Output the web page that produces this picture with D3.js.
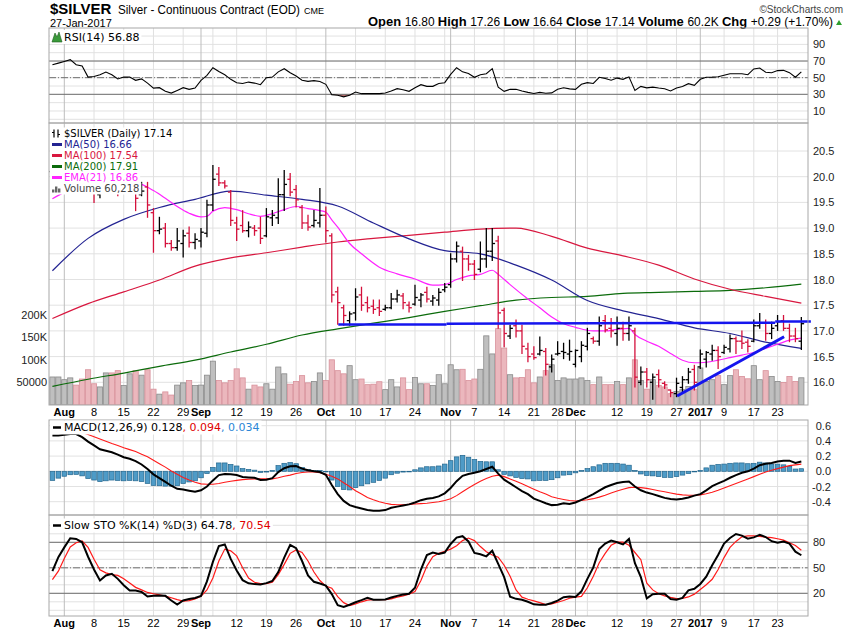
<!DOCTYPE html>
<html><head><meta charset="utf-8">
<script src="https://cdn.jsdelivr.net/npm/d3@7"></script>
<style>body{margin:0;background:#fff}svg{display:block}</style>
</head><body>
<svg id="chart" width="850" height="633"></svg>
<script>
// ---------------- DATA (one entry per trading day, 28-Jul-2016 .. 27-Jan-2017) ----------------
const barOpen = [20.10,20.25,20.40,20.55,20.60,20.35,20.20,19.85,19.65,19.90,
20.00,19.85,19.70,19.75,19.82,19.65,19.80,19.30,18.95,19.00,
18.70,18.62,18.70,18.90,18.72,18.75,18.90,19.45,20.05,19.88,
19.70,19.10,19.05,18.95,19.00,19.00,18.85,19.20,19.20,19.65,
19.95,19.75,19.40,19.10,19.05,19.10,19.25,18.85,17.76,17.45,
17.20,17.35,17.70,17.55,17.48,17.45,17.42,17.45,17.62,17.68,
17.50,17.52,17.60,17.75,17.58,17.60,17.80,17.90,18.40,18.55,
18.40,18.30,18.20,18.40,18.55,18.75,17.40,16.90,17.10,17.00,
16.65,16.55,16.55,16.60,16.30,16.55,16.60,16.55,16.35,16.50,
16.70,16.85,16.80,17.20,17.05,16.95,17.05,16.95,17.00,16.00,
16.20,16.00,16.15,15.98,15.85,15.78,15.90,16.05,16.25,16.30,
16.45,16.55,16.62,16.58,16.65,16.85,16.80,16.78,16.80,17.10,
17.15,16.95,17.10,17.20,17.05,16.90,16.80];
const barHigh = [20.30,20.45,20.70,20.80,20.70,20.45,20.30,19.95,19.95,20.10,
20.08,19.95,19.95,20.10,19.89,19.89,19.89,19.38,19.21,19.09,
18.76,18.99,18.96,19.02,18.89,18.99,19.54,20.22,20.18,19.92,
19.73,19.21,19.34,19.12,19.05,19.21,19.38,19.34,19.96,20.12,
20.06,19.83,19.44,19.25,19.34,19.77,19.41,18.89,17.85,17.50,
17.37,17.82,17.85,17.66,17.60,17.60,17.50,17.73,17.79,17.73,
17.56,17.89,17.73,17.85,17.69,17.82,17.92,18.50,18.73,18.63,
18.47,18.37,18.73,18.99,18.99,18.84,17.44,17.11,17.21,17.11,
16.76,16.69,16.88,16.66,16.53,16.79,16.76,16.82,16.63,16.79,
17.05,16.88,17.27,17.30,17.24,17.27,17.17,17.27,17.05,16.30,
16.27,16.16,16.24,16.01,15.85,16.08,16.11,16.27,16.33,16.63,
16.60,16.72,16.69,16.72,16.92,16.88,17.00,16.83,17.21,17.34,
17.21,17.17,17.30,17.30,17.13,17.05,17.26];
const barLow = [19.95,20.15,20.30,20.45,20.25,20.05,19.75,19.50,19.59,19.75,
19.75,19.63,19.70,19.72,19.34,19.63,19.21,18.53,18.89,18.63,
18.57,18.57,18.44,18.63,18.60,18.63,18.83,19.34,19.83,19.78,
19.05,18.76,18.92,18.83,18.86,18.70,18.83,19.05,19.09,19.34,
19.63,19.41,18.99,18.96,19.02,19.02,18.73,17.56,17.13,17.11,
17.11,17.21,17.40,17.37,17.34,17.30,17.40,17.43,17.56,17.43,
17.37,17.50,17.47,17.56,17.50,17.50,17.76,17.85,18.34,17.98,
18.18,18.00,18.15,18.24,18.37,17.05,16.69,16.85,16.88,16.56,
16.40,16.45,16.53,16.14,16.20,16.53,16.46,16.43,16.30,16.40,
16.63,16.76,16.72,16.98,16.88,16.72,16.82,16.82,15.91,15.95,
15.91,15.67,15.91,15.88,15.72,15.72,15.82,15.98,15.85,16.27,
16.30,16.43,16.27,16.56,16.59,16.56,16.66,16.59,16.79,17.05,
16.82,16.85,17.01,17.01,16.79,16.79,16.64];
const barClose = [20.25,20.40,20.55,20.65,20.35,20.20,19.80,19.72,19.88,20.05,
19.85,19.68,19.80,19.82,19.58,19.72,19.45,18.95,18.98,18.70,
18.62,18.75,18.85,18.72,18.78,18.92,19.45,19.95,19.88,19.82,
19.15,18.98,18.95,19.02,18.95,18.80,19.22,19.25,19.65,19.85,
19.70,19.55,19.10,19.02,19.15,19.25,18.95,17.70,17.55,17.30,
17.33,17.66,17.50,17.45,17.42,17.38,17.45,17.62,17.70,17.55,
17.45,17.65,17.70,17.62,17.64,17.75,17.85,18.40,18.65,18.40,
18.30,18.10,18.40,18.55,18.70,17.35,16.95,17.05,17.00,16.70,
16.50,16.48,16.62,16.35,16.45,16.56,16.58,16.60,16.62,16.72,
16.95,16.80,17.10,17.02,17.00,17.05,16.95,17.10,16.10,16.20,
16.05,16.10,16.05,15.95,15.80,15.98,16.05,16.20,16.00,16.55,
16.58,16.62,16.50,16.68,16.85,16.80,16.76,16.70,17.10,17.15,
16.95,17.05,17.18,17.05,16.90,16.85,17.14];
// volume in thousands
const volumeK = [62,62,56,60,44,57.5,78,47,40,71,
71,76,43,69,76,66,78,35,24,29,
22,44,49,54,43,44,66,97,54,49,
54,80,60,35,44,40,47,35,84,69,
46,52,65,49,52,71,54,100,76,69,
87,56,57.5,45,46,51.5,34,56,40,60,
34,61,47,47,43,67,47,89,78,79,
54,57.5,79,153,113,169,126,67,60,61,
78,49,62,76,89,54,60,57.5,57.5,60,
54,45,62,45,45,52,45,60,100,54,
35,56,43,40,25,30,34,41,35,82,
52,56,65,45,65,78,63,58,87,56,
76,63,52,50,63,52,60.218];
const rsi14 = [65.5,67.5,69.5,71.6,65.6,64,50.7,51.5,53.5,56.7,
53.6,48.5,50.7,50.7,46.8,48.5,43.5,37.5,38,33.6,
31.5,34.7,38,36,37.5,46.8,52.8,62,57.5,53.5,
48,44,43,44.7,43.5,41.6,50,50.7,57,60.8,
56,52,47,45.6,46.5,45.5,42,29.6,28.8,27,
28.8,32.7,30.8,30.8,30.8,30.8,31.5,34,36.8,35.5,
33.6,38,41.6,39.6,39.6,43,44,54,62,57,
55,50.5,53.6,54.8,60.8,38.7,33.6,36,36,34,
32.3,31,32.3,31.3,31.7,36,37.8,36.5,36,42,
44,43,50.5,49,47,49.5,48,51,34.7,39.5,
37.8,38.7,37.6,36.8,34,37.5,39.5,42.8,40.8,48,
50.5,50.7,51.2,53,54.8,54.8,54.8,53.6,60.5,61.6,
56.5,56,58.5,58.8,56,50.5,56.88];
const macdLine = [0.47,0.47,0.48,0.49,0.49,0.45,0.39,0.34,0.29,0.27,
0.25,0.22,0.185,0.165,0.135,0.09,0.03,-0.04,-0.09,-0.14,
-0.19,-0.23,-0.24,-0.255,-0.27,-0.25,-0.20,-0.12,-0.05,-0.035,
-0.04,-0.05,-0.075,-0.08,-0.085,-0.115,-0.11,-0.09,-0.01,0.04,
0.065,0.07,0.035,0.015,0.00,-0.01,-0.045,-0.18,-0.30,-0.39,
-0.445,-0.47,-0.49,-0.51,-0.52,-0.52,-0.51,-0.48,-0.465,-0.45,
-0.435,-0.41,-0.38,-0.36,-0.35,-0.33,-0.29,-0.22,-0.13,-0.06,
-0.035,-0.02,0.00,0.03,0.06,-0.03,-0.11,-0.16,-0.21,-0.26,
-0.30,-0.36,-0.39,-0.42,-0.445,-0.44,-0.42,-0.43,-0.41,-0.375,
-0.34,-0.30,-0.255,-0.21,-0.18,-0.155,-0.14,-0.135,-0.20,-0.25,
-0.28,-0.30,-0.325,-0.35,-0.365,-0.37,-0.36,-0.345,-0.32,-0.30,
-0.25,-0.195,-0.16,-0.125,-0.085,-0.05,-0.02,0.00,0.035,0.08,
0.10,0.11,0.13,0.14,0.14,0.11,0.128];
const macdSignal = [0.59,0.56,0.545,0.535,0.53,0.51,0.485,0.455,0.425,0.395,
0.365,0.34,0.31,0.285,0.26,0.225,0.19,0.145,0.10,0.055,
0.005,-0.04,-0.08,-0.115,-0.145,-0.165,-0.17,-0.17,-0.16,-0.145,
-0.13,-0.12,-0.11,-0.105,-0.10,-0.10,-0.10,-0.10,-0.085,-0.065,
-0.05,-0.03,-0.015,-0.01,-0.01,-0.02,-0.04,-0.065,-0.10,-0.15,
-0.20,-0.255,-0.30,-0.345,-0.375,-0.40,-0.42,-0.435,-0.44,-0.44,
-0.435,-0.43,-0.425,-0.42,-0.41,-0.40,-0.385,-0.36,-0.32,-0.27,
-0.22,-0.175,-0.13,-0.095,-0.065,-0.05,-0.07,-0.10,-0.13,-0.165,
-0.20,-0.235,-0.27,-0.30,-0.335,-0.355,-0.37,-0.385,-0.39,-0.385,
-0.375,-0.36,-0.34,-0.315,-0.285,-0.26,-0.235,-0.215,-0.21,-0.215,
-0.225,-0.24,-0.255,-0.27,-0.285,-0.30,-0.31,-0.315,-0.315,-0.31,
-0.295,-0.275,-0.25,-0.22,-0.19,-0.16,-0.13,-0.10,-0.07,-0.04,
-0.01,0.015,0.035,0.055,0.075,0.085,0.094];
const macdHist = [-0.12,-0.09,-0.065,-0.045,-0.04,-0.06,-0.095,-0.115,-0.135,-0.125,
-0.115,-0.12,-0.125,-0.12,-0.125,-0.135,-0.16,-0.185,-0.19,-0.195,
-0.195,-0.19,-0.16,-0.14,-0.125,-0.085,-0.03,0.05,0.11,0.11,
0.09,0.07,0.035,0.025,0.015,-0.015,-0.01,0.01,0.075,0.105,
0.115,0.10,0.05,0.025,0.01,0.01,-0.005,-0.115,-0.20,-0.24,
-0.245,-0.215,-0.19,-0.165,-0.145,-0.12,-0.09,-0.045,-0.025,-0.01,
0.0,0.02,0.045,0.06,0.06,0.07,0.095,0.14,0.19,0.21,
0.185,0.155,0.13,0.125,0.125,0.02,-0.04,-0.06,-0.08,-0.095,
-0.10,-0.125,-0.12,-0.12,-0.11,-0.085,-0.05,-0.045,-0.02,0.01,
0.035,0.06,0.085,0.105,0.105,0.105,0.095,0.08,0.01,-0.035,
-0.055,-0.06,-0.07,-0.08,-0.08,-0.07,-0.05,-0.03,-0.005,0.01,
0.045,0.08,0.09,0.095,0.105,0.11,0.11,0.10,0.105,0.12,
0.11,0.095,0.095,0.085,0.065,0.03,0.034];
const stoK = [46,62.5,74,84.8,84,80,63,48,35,41,
43,37,29.5,23.3,23.3,21.5,16.2,17,17.3,17,
11.5,6.8,11.5,13.3,14.5,17,34,57,75.5,77.5,
60.5,46.8,35.5,31.7,30.8,30.4,32,34.5,45,62,
77,73,58,41,33.5,31.5,29,19,6,4,
6.5,9.5,12,14.7,12.4,12.4,12.8,15.1,17,18.6,
19.4,26.5,48,65,68,66.4,68,78,85.5,87.2,
81,67.5,66,63.5,70,54.7,39,16,13.5,12.4,
10,7,6.5,6.5,8.6,11.4,15.4,16.2,15.7,22.3,
37,50.5,72,78.5,82,80,77.5,84,55.4,39,
14,19,19.4,19.4,13.3,12.4,14.5,23.5,25.3,31,
39.5,53,65,78.5,85,89.8,87.9,84.3,85.8,88.8,
86.2,81.3,79.6,80.9,78.4,69,64.78];
const stoD = [36,46,61,74.5,79.5,81.5,74,60,47.6,44,
42,41,37,32,27,24,21,19.5,18.2,16.7,
14.8,12.5,10.8,11.4,13.5,16.5,24,38,58,72,
70,64,50,38,33,31.5,31.5,33,42,54,
67,71,68,58,45,35,28.5,26,16,9,
5.5,7.5,10,12,12.4,12.4,12.4,13.5,15.5,17,
19,22,35,52,63,67,69.5,72,76,82,
85,82,75,69,65,62.5,53,40,24,15.5,
13,11,9,6.8,7.5,9.5,11.5,14.2,15.4,16.3,
26.5,40,56,67,76.5,80.1,80.1,76.5,68,59.5,
32,24,19.5,17,15.3,13.8,14,15.7,19,24.5,
30,36.5,48,62,74,81,86.4,87.5,87.6,87,
86,85.5,84.2,82.5,79.5,76.2,70.54];
// moving averages read at sample bars
const maBars = [0,6,12,18,24,30,36,42,48,54,60,66,72,78,84,90,96,102,108,114,120,126];
const ma50  = [18.17,18.80,19.17,19.40,19.56,19.72,19.64,19.56,19.43,19.10,18.79,18.56,18.50,18.28,17.99,17.59,17.39,17.24,17.06,16.95,16.78,16.66];
const ma100 = [17.24,17.53,17.76,17.99,18.26,18.42,18.52,18.63,18.73,18.80,18.86,18.92,18.98,19.00,18.84,18.61,18.46,18.28,18.01,17.81,17.67,17.54];
const ma200 = [15.92,16.06,16.18,16.31,16.43,16.59,16.74,16.92,17.04,17.15,17.26,17.38,17.49,17.60,17.65,17.67,17.73,17.75,17.77,17.79,17.84,17.91];
const emaBars = [0,2,5,8,11,13,15,17,19,21,23,25,26,27,29,31,33,35,37,39,41,43,45,46,47,48,50,52,55,58,61,64,66,68,70,72,74,75,77,80,82,84,86,88,91,93,95,97,98,100,102,104,106,108,110,112,114,116,118,120,122,124,126];
const ema21 = [19.57,19.70,19.83,19.88,19.90,19.89,19.85,19.73,19.58,19.42,19.29,19.22,19.23,19.33,19.40,19.36,19.28,19.23,19.28,19.36,19.42,19.38,19.34,19.31,19.16,19.02,18.70,18.50,18.24,18.11,18.01,17.89,17.90,18.00,18.07,18.10,18.18,18.10,17.90,17.62,17.45,17.27,17.14,17.07,17.00,17.00,17.03,17.05,16.93,16.80,16.70,16.56,16.43,16.38,16.39,16.43,16.48,16.53,16.58,16.66,16.74,16.82,16.86];
// drawn annotation lines [bar0, price0, bar1, price1, width]
const annoLines = [[48.1,17.125,66.3,17.125,2.5],[66.3,17.14,121.6,17.16,2.5],[121.6,17.185,127.6,17.185,2.5],[105.1,15.733,123.1,16.887,3]];
// time axis
const tickBars   = [2,7,12,17,22,25,27,31,36,41,46,51,56,61,66,67,71,76,81,85,88,90,95,100,105,109,113,118,122];
const tickLabels = ["Aug","8","15","22","29","Sep","","12","19","26","Oct","10","17","24","","Nov","7","14","21","28","Dec","","12","19","27","2017","9","17","23"];
const monthLabels = ["Aug","Sep","Oct","Nov","Dec","2017"];
const priceTicks = [16.0,16.5,17.0,17.5,18.0,18.5,19.0,19.5,20.0,20.5];
const volTicks = [50,100,150,200];
const volTickLabels = ["50000","100K","150K","200K"];
const rsiTicks = [10,30,50,70,90];
const macdTicks = [-0.4,-0.2,0.0,0.2,0.4,0.6];
const stoTicks = [20,50,80];

// ---------------- LAYOUT ----------------
const L = 49, R = 808;
const svg = d3.select('#chart');
const x = d3.scaleLinear().domain([-0.574, 127.12]).range([L, R]);
const P = {rsi:[28,123], price:[123,405], macd:[420,515], sto:[515,616]};
const yR = d3.scaleLinear().domain([0,100]).range([119.3,36.05]);
const yP = d3.scaleLinear().domain([16,20.5]).range([382.3,151]);
const yV = d3.scaleLinear().domain([0,200]).range([405,314.6]);
const yM = d3.scaleLinear().domain([-0.4,0.6]).range([501.7,425.7]);
const yS = d3.scaleLinear().domain([20,80]).range([593.3,542.3]);
const SANS = "'Liberation Sans', Arial, sans-serif";
const NARROW = "'Liberation Sans Narrow', 'Arial Narrow', 'Liberation Sans', Arial, sans-serif";
const LEG = "'DejaVu Sans', Verdana, sans-serif";
const RED = "#d4113c";

const defs = svg.append('defs');
Object.entries(P).forEach(([k,[t,b]]) => {
  defs.append('clipPath').attr('id','clip-'+k).append('rect')
    .attr('x',L).attr('y',t).attr('width',R-L).attr('height',b-t);
});

function grid(key, hVals, yScale) {
  const [t,b] = P[key];
  const g = svg.append('g');
  g.selectAll('line.h').data(hVals).join('line')
    .attr('x1',L).attr('x2',R).attr('y1',d=>yScale(d)).attr('y2',d=>yScale(d))
    .attr('stroke','#e2e2e2').attr('stroke-width',1);
  g.selectAll('line.v').data(tickBars).join('line')
    .attr('x1',d=>x(d)).attr('x2',d=>x(d)).attr('y1',t).attr('y2',b)
    .attr('stroke',(d,i)=> monthLabels.includes(tickLabels[i]) ? '#bdbdbd' : '#e0e0e0')
    .attr('stroke-width',1);
  return g;
}
function frame(key) {
  const [t,b] = P[key];
  svg.append('rect').attr('x',L).attr('y',t).attr('width',R-L).attr('height',b-t)
    .attr('fill','none').attr('stroke','#a8a8a8').attr('stroke-width',1);
}
function refLine(yv, dash) {
  svg.append('line').attr('x1',L).attr('x2',R).attr('y1',yv).attr('y2',yv)
    .attr('stroke','#707070').attr('stroke-width',1)
    .attr('stroke-dasharray', dash ? '7,2,1,2' : null);
}
function rightLabels(vals, yScale, fmt, anchor, xx) {
  svg.append('g').selectAll('text').data(vals).join('text')
    .attr('x',xx).attr('y',d=>yScale(d)+4).attr('text-anchor',anchor)
    .attr('font-family',SANS).attr('font-size',11).attr('fill','#222')
    .text(fmt);
}
function legendLine(xText, yBase, parts, size, iconFn) {
  const g = svg.append('g');
  const t = g.append('text').attr('x',xText).attr('y',yBase)
    .attr('font-family',LEG).attr('font-size',size);
  parts.forEach(p => t.append('tspan').attr('fill',p[1]).text(p[0]));
  const bb = t.node().getBBox();
  g.insert('rect', () => t.node()).attr('x',L+1).attr('y',bb.y-0.5)
    .attr('width', bb.x + bb.width - L + 1).attr('height', bb.height+1).attr('fill','#fff');
  if (iconFn) iconFn(g, bb.y + bb.height/2);
}
// text squeezed to a given width (reference uses a condensed face)
function fitText(xx, yy, str, size, weight, width, anchor, fill) {
  const t = svg.append('text').attr('x',xx).attr('y',yy).attr('font-family',NARROW)
    .attr('font-size',size).attr('font-weight',weight).attr('fill',fill||'#000')
    .attr('text-anchor',anchor||'start').text(str);
  if (width && t.node().getComputedTextLength() > width)
    t.attr('textLength',width).attr('lengthAdjust','spacingAndGlyphs');
  return t;
}

// ---------------- HEADER ----------------
fitText(50, 13.5, '$SILVER', 15, 'bold', 64);
fitText(118, 14, 'Silver - Continuous Contract (EOD)', 12, 'normal', 182);
fitText(304, 14, 'CME', 9, 'normal', 22);
fitText(50, 27, '27-Jan-2017', 11, 'normal', 63);
fitText(843, 13, '\u00A9StockCharts.com', 10, 'normal', 0, 'end', '#444');
const hdr = svg.append('text').attr('x',833).attr('y',26).attr('text-anchor','end').attr('font-family',NARROW).attr('font-size',12).attr('fill','#000');
[['Open ',1],['16.80 ',0],['High ',1],['17.26 ',0],['Low ',1],['16.64 ',0],['Close ',1],['17.14 ',0],['Volume ',1],['60.2K ',0],['Chg ',1],['+0.29 (+1.70%)',0]]
  .forEach(p => hdr.append('tspan').attr('font-weight',p[1]?'bold':'normal').attr('font-size',p[1]?13:12).text(p[0]));
if (hdr.node().getComputedTextLength() > 465) hdr.attr('textLength',465).attr('lengthAdjust','spacingAndGlyphs');
svg.append('path').attr('d','M836,25 L842,25 L839,20 Z').attr('fill','#2e9e2e');

// ---------------- RSI PANEL ----------------
grid('rsi', d3.range(0,101,10), yR);
svg.append('path').datum(rsi14).attr('clip-path','url(#clip-rsi)')
  .attr('d', d3.area().x((d,i)=>x(i)).y0(yR(30)).y1(d=>yR(Math.min(d,30))))
  .attr('fill','#b46a6a');
refLine(yR(70)); refLine(yR(30)); refLine(yR(50), true);
svg.append('path').datum(rsi14).attr('clip-path','url(#clip-rsi)')
  .attr('d', d3.line().x((d,i)=>x(i)).y(d=>yR(d)))
  .attr('fill','none').attr('stroke','#000').attr('stroke-width',1.1);
frame('rsi');
rightLabels(rsiTicks, yR, d=>d, 'start', 813);
legendLine(64, 40.5, [['RSI(14) 56.88','#000']], 11, (g,cy) => {
  g.append('path').attr('d',`M52,${cy+5} L55,${cy-4} L57,${cy} L59,${cy-5} L62,${cy+5} Z`).attr('fill','#3a9a3a').attr('stroke','#1e5e1e').attr('stroke-width',0.6);
});

// ---------------- PRICE PANEL ----------------
grid('price', priceTicks, yP);
const pg = svg.append('g').attr('clip-path','url(#clip-price)');
const up = i => i === 0 ? true : barClose[i] >= barClose[i-1];
pg.selectAll('rect.vol').data(volumeK).join('rect')
  .attr('x',(d,i)=>x(i)-2.6).attr('width',5.2)
  .attr('y',d=>yV(d)).attr('height',d=>yV(0)-yV(d))
  .attr('fill',(d,i)=> up(i) ? '#bfbfbf' : '#ebb7bd')
  .attr('stroke',(d,i)=> up(i) ? '#8a8a8a' : '#d8909a').attr('stroke-width',0.8);
const maLine = (bars) => d3.line().x((d,k)=>x(bars[k])).y(d=>yP(d)).curve(d3.curveMonotoneX);
[[ma200,'#0b6b0b'],[ma100,'#d8173f'],[ma50,'#232392']].forEach(([arr,c]) => {
  pg.append('path').attr('d', maLine(maBars)(arr)).attr('fill','none').attr('stroke',c).attr('stroke-width',1.2);
});
pg.append('path').attr('d', maLine(emaBars)(ema21)).attr('fill','none').attr('stroke','#ff22ff').attr('stroke-width',1.2);
const bars = pg.selectAll('g.bar').data(barClose).join('g')
  .attr('stroke',(d,i)=> up(i) ? '#000' : RED).attr('stroke-width',1.3);
bars.append('line').attr('x1',(d,i)=>x(i)).attr('x2',(d,i)=>x(i))
  .attr('y1',(d,i)=>yP(barHigh[i])-0.5).attr('y2',(d,i)=>yP(barLow[i])+0.5);
bars.append('line').attr('x1',(d,i)=>x(i)-2.8).attr('x2',(d,i)=>x(i))
  .attr('y1',(d,i)=>yP(barOpen[i])).attr('y2',(d,i)=>yP(barOpen[i]));
bars.append('line').attr('x1',(d,i)=>x(i)).attr('x2',(d,i)=>x(i)+2.8)
  .attr('y1',(d,i)=>yP(barClose[i])).attr('y2',(d,i)=>yP(barClose[i]));
svg.append('g').selectAll('line').data(annoLines).join('line')
  .attr('x1',d=>x(d[0])).attr('y1',d=>yP(d[1])).attr('x2',d=>x(d[2])).attr('y2',d=>yP(d[3]))
  .attr('stroke','#1515ee').attr('stroke-width',d=>d[4]).attr('stroke-linecap','butt');
frame('price');
rightLabels(priceTicks, yP, d=>d.toFixed(1), 'start', 813);
svg.append('g').selectAll('text').data(volTicks).join('text')
  .attr('x',47).attr('y',d=>yV(d)+4).attr('text-anchor','end')
  .attr('font-family',SANS).attr('font-size',11).attr('fill','#222')
  .text((d,i)=>volTickLabels[i]);
// legend
const legRows = [
  [['$SILVER (Daily) 17.14','#000'], 'price'],
  [['MA(50) 16.66','#232392'], '#232392'],
  [['MA(100) 17.54','#d8173f'], '#d8173f'],
  [['MA(200) 17.91','#0b6b0b'], '#0b6b0b'],
  [['EMA(21) 16.86','#ff22ff'], '#ff22ff'],
  [['Volume 60,218','#444'], 'vol']
];
legRows.forEach((r,k) => {
  legendLine(64, 137 + k*11, [r[0]], 10, (g,cy) => {
    if (r[1] === 'price') {
      g.append('path').attr('d',`M54,${cy-4}V${cy+4}M52,${cy-1}H54M58,${cy-4}V${cy+4}M58,${cy+1}H60`).attr('stroke','#000').attr('stroke-width',1.2);
    } else if (r[1] === 'vol') {
      [[52,3],[55,6],[58,4]].forEach(([bx,h]) => g.append('rect').attr('x',bx).attr('y',cy+4-h).attr('width',2.4).attr('height',h).attr('fill','#666'));
    } else {
      g.append('line').attr('x1',52).attr('x2',62).attr('y1',cy).attr('y2',cy).attr('stroke',r[1]).attr('stroke-width',3);
    }
  });
});
// time axis labels
function timeLabels(yBase) {
  svg.append('g').selectAll('text').data(tickBars).join('text')
    .attr('x',d=>x(d)).attr('y',yBase).attr('text-anchor','middle')
    .attr('font-family',SANS).attr('font-size',11)
    .attr('font-weight',(d,i)=> monthLabels.includes(tickLabels[i]) ? 'bold' : 'normal')
    .attr('fill','#000').text((d,i)=>tickLabels[i]);
}
timeLabels(416);

// ---------------- MACD PANEL ----------------
grid('macd', macdTicks, yM);
const mg = svg.append('g').attr('clip-path','url(#clip-macd)');
mg.selectAll('rect').data(macdHist).join('rect')
  .attr('x',(d,i)=>x(i)-2.3).attr('width',4.6)
  .attr('y',d=>Math.min(yM(0),yM(d))).attr('height',d=>Math.max(0.6,Math.abs(yM(d)-yM(0))))
  .attr('fill','#4e9bc7').attr('stroke','#22668e').attr('stroke-width',0.7);
mg.append('path').datum(macdSignal).attr('d', d3.line().x((d,i)=>x(i)).y(d=>yM(d)))
  .attr('fill','none').attr('stroke','#ff1a1a').attr('stroke-width',1.1);
mg.append('path').datum(macdLine).attr('d', d3.line().x((d,i)=>x(i)).y(d=>yM(d)))
  .attr('fill','none').attr('stroke','#000').attr('stroke-width',2);
frame('macd');
rightLabels(macdTicks, yM, d=>d.toFixed(1), 'end', 831);
legendLine(64, 431, [['MACD(12,26,9) 0.128','#000'],[', 0.094','#e00000'],[', 0.034','#2b86d6']], 11, (g,cy) => {
  g.append('line').attr('x1',53).attr('x2',61).attr('y1',cy).attr('y2',cy).attr('stroke','#000').attr('stroke-width',2.5);
});

// ---------------- STO PANEL ----------------
grid('sto', d3.range(0,101,10), yS);
refLine(yS(80)); refLine(yS(20)); refLine(yS(50), true);
const sg = svg.append('g').attr('clip-path','url(#clip-sto)');
sg.append('path').datum(stoD).attr('d', d3.line().x((d,i)=>x(i)).y(d=>yS(d)))
  .attr('fill','none').attr('stroke','#ff1a1a').attr('stroke-width',1.2);
sg.append('path').datum(stoK).attr('d', d3.line().x((d,i)=>x(i)).y(d=>yS(d)))
  .attr('fill','none').attr('stroke','#000').attr('stroke-width',2);
frame('sto');
rightLabels(stoTicks, yS, d=>d, 'start', 813);
legendLine(64, 529, [['Slow STO %K(14) %D(3) 64.78','#000'],[', 70.54','#e00000']], 11, (g,cy) => {
  g.append('line').attr('x1',53).attr('x2',61).attr('y1',cy).attr('y2',cy).attr('stroke','#000').attr('stroke-width',2.5);
});
timeLabels(627);
</script>
</body></html>
